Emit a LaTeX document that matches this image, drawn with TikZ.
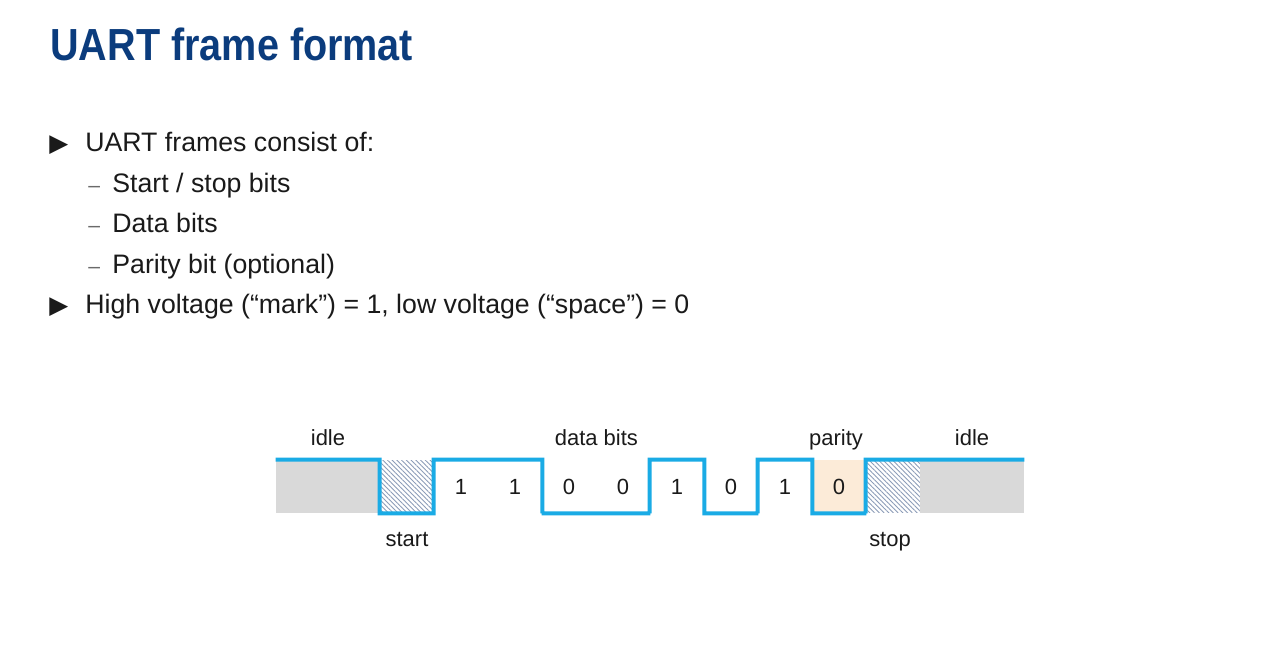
\documentclass[tikz,border=0pt]{standalone}
\usepackage{fontspec}
\setmainfont{Liberation Sans}
\newfontfamily\titlefont[FakeStretch=0.88]{Liberation Sans}
\newfontfamily\symfont{DejaVu Sans}
\usetikzlibrary{patterns.meta,positioning}
\definecolor{titleblue}{HTML}{0B3C7D}
\definecolor{wire}{HTML}{1AABE5}
\definecolor{idlegray}{HTML}{D9D9D9}
\definecolor{peach}{HTML}{FCEBD8}
\definecolor{hatchblue}{HTML}{8C9CB8}
\definecolor{ink}{HTML}{1A1A1A}
\definecolor{dashgray}{HTML}{6A6A6A}
\tikzset{
  heading/.style={
    text=titleblue,
    anchor=base west,
    inner sep=0pt,
    font=\titlefont\bfseries\fontsize{25.6}{30}\selectfont
  },
  bullet/.style={
    text=ink,
    anchor=base west,
    inner sep=0pt,
    font=\fontsize{15.2}{18}\selectfont
  },
  marker/.style={
    text=ink,
    anchor=base west,
    inner sep=0pt,
    font=\symfont\fontsize{14}{16}\selectfont
  },
  subdash/.style={
    text=dashgray,
    anchor=base west,
    inner sep=0pt,
    font=\fontsize{12}{14}\selectfont
  },
  cell/.style={
    minimum width=1.08cm,
    minimum height=1.06cm,
    inner sep=0pt,
    text=ink,
    font=\fontsize{12.5}{15}\selectfont
  },
  idlecell/.style={
    cell,
    minimum width=2.08cm,
    fill=idlegray
  },
  hatched/.style={
    cell,
    pattern={Lines[angle=-45,distance=1.9pt,line width=0.5pt]},
    pattern color=hatchblue
  },
  tag/.style={
    text=ink,
    inner sep=0pt,
    anchor=base,
    font=\fontsize{12.5}{15}\selectfont
  },
  wave/.style={
    draw=wire,
    line width=0.08cm
  }
}

\begin{document}
\begin{tikzpicture}[x=0.02cm,y=-0.02cm]
  \fill[white] (0,0) rectangle (1280,658);
  \useasboundingbox (0,0) rectangle (1280,658);

  \node[heading] (title) at (50,61) {UART frame format};

  \node[marker] (m1) at (49,152) {▶};
  \node[bullet] (l1) at (85,152) {UART frames consist of:};
  \node[subdash] (d1) at (88,193) {–};
  \node[bullet] (l2) at (112,193) {Start / stop bits};
  \node[subdash] (d2) at (88,233) {–};
  \node[bullet] (l3) at (112,233) {Data bits};
  \node[subdash] (d3) at (88,274) {–};
  \node[bullet] (l4) at (112,274) {Parity bit (optional)};
  \node[marker] (m2) at (49,314) {▶};
  \node[bullet] (l5) at (85,314) {High voltage (“mark”) = 1, low voltage (“space”) = 0};

  % frame cells
  \node[idlecell] (idleL) at (328,486.5) {};
  \node[hatched] (start) at (407,486.5) {};
  \foreach \i/\v in {1/1,2/1,3/0,4/0,5/1,6/0,7/1}
    \node[cell] (b\i) at (407+54*\i,486.5) {\v};
  \node[cell, fill=peach] (b8) at (839,486.5) {0};
  \node[hatched] (stop) at (893,486.5) {};
  \node[idlecell] (idleR) at (972,486.5) {};

  \node[tag] (idleLtag) at ([yshift=0.28cm]idleL.north) {idle};
  \node[tag] (datatag) at ([yshift=0.28cm]b3.north east) {data bits};
  \node[tag] (paritytag) at ([xshift=-0.06cm,yshift=0.28cm]b8.north) {parity};
  \node[tag] (idleRtag) at ([yshift=0.28cm]idleR.north) {idle};
  \node[tag] (starttag) at ([yshift=-0.66cm]start.south) {start};
  \node[tag] (stoptag) at ([xshift=-0.06cm,yshift=-0.66cm]stop.south) {stop};

  \draw[wave] (idleL.north west) -- (start.north west) -- (start.south west)
    -| (b1.north west) -- (b2.north east) |- (b3.south west)
    -- (b4.south east) -| (b5.north west) -- (b5.north east)
    |- (b6.south east) -| (b7.north west) -- (b7.north east)
    |- (b8.south east) -| (stop.north west) -- (idleR.north east);
\end{tikzpicture}
\end{document}
